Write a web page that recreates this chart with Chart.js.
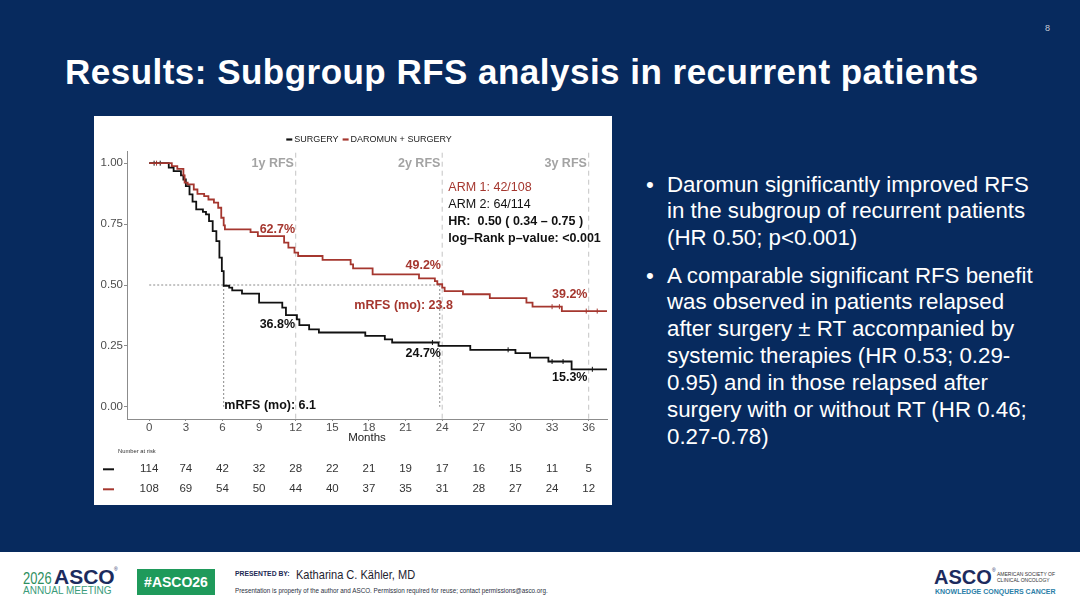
<!DOCTYPE html>
<html>
<head>
<meta charset="utf-8">
<script src="https://cdn.jsdelivr.net/npm/chart.js@4.4.0/dist/chart.umd.min.js"></script>
<style>
html, body { margin: 0; padding: 0; }
body { width: 1080px; height: 608px; position: relative; overflow: hidden; background: #072a5e; font-family: "Liberation Sans", Arial, sans-serif; }
.abs { position: absolute; white-space: nowrap; line-height: 1; }
#title { left: 65px; top: 54px; font-size: 35px; font-weight: bold; color: #fff; letter-spacing: 0.48px; }
#pg { left: 1045px; top: 24px; font-size: 9px; color: #c9cdd8; }
#box { left: 94px; top: 116px; width: 518px; height: 389px; background: #fff; }
.bul { position: absolute; left: 646px; padding-left: 21px; color: #fff; font-size: 22.3px; line-height: 26.9px; white-space: nowrap; }
.bul:before { content: "\2022"; position: absolute; left: 0; }
#footer { left: 0; top: 552px; width: 1080px; height: 56px; background: #fff; }
</style>
</head>
<body>
<div id="title" class="abs">Results: Subgroup RFS analysis in recurrent patients</div>
<div id="pg" class="abs">8</div>

<div id="box" class="abs"><canvas id="km" width="518" height="389"></canvas></div>

<div class="bul" style="top:171.5px">Daromun significantly improved RFS<br>in the subgroup of recurrent patients<br>(HR 0.50; p&lt;0.001)</div>
<div class="bul" style="top:262.5px">A comparable significant RFS benefit<br>was observed in patients relapsed<br>after surgery ± RT accompanied by<br>systemic therapies (HR 0.53; 0.29-<br>0.95) and in those relapsed after<br>surgery with or without RT (HR 0.46;<br>0.27-0.78)</div>

<div id="footer" class="abs"></div>
<div class="abs" style="left:23px;top:570px;font-size:17px;color:#2f8f5f;transform:scaleX(0.76);transform-origin:0 0">2026</div>
<div class="abs" style="left:54px;top:566px;font-size:21px;font-weight:bold;color:#1c2b5e">ASCO</div>
<div class="abs" style="left:114px;top:567px;font-size:5px;color:#1c2b5e">®</div>
<div class="abs" style="left:23px;top:586px;font-size:10px;color:#3b9c7a">ANNUAL MEETING</div>
<div class="abs" style="left:137px;top:569px;width:78px;height:26px;background:#1f9a5b;color:#fff;font-weight:bold;font-size:14px;line-height:26px;text-align:center">#ASCO26</div>
<div class="abs" style="left:235px;top:571px;font-size:6.8px;font-weight:bold;color:#1c2a55">PRESENTED BY:</div>
<div class="abs" style="left:296px;top:567.5px;font-size:13px;color:#1f2430;transform:scaleX(0.85);transform-origin:0 0">Katharina C. Kähler, MD</div>
<div class="abs" style="left:235px;top:588px;font-size:6.3px;color:#2a3040">Presentation is property of the author and ASCO. Permission required for reuse; contact permissions@asco.org.</div>
<div class="abs" style="left:934px;top:567px;font-size:20px;font-weight:bold;color:#1c2b5e">ASCO</div>
<div class="abs" style="left:992px;top:568px;font-size:5px;color:#1c2b5e">®</div>
<div class="abs" style="left:997px;top:571px;font-size:5px;color:#333;line-height:6px">AMERICAN SOCIETY OF<br>CLINICAL ONCOLOGY</div>
<div class="abs" style="left:935px;top:588px;font-size:7px;font-weight:bold;color:#2b80a8">KNOWLEDGE CONQUERS CANCER</div>

<script>
// Months shown on the x axis and numbers at risk below each of them
const months = [0, 3, 6, 9, 12, 15, 18, 21, 24, 27, 30, 33, 36];
const atRiskSurgery = [114, 74, 42, 32, 28, 22, 21, 19, 17, 16, 15, 11, 5];
const atRiskDaromun = [108, 69, 54, 50, 44, 40, 37, 35, 31, 28, 27, 24, 12];
const yTicks = [0, 0.25, 0.5, 0.75, 1];

// Kaplan-Meier steps (month, survival)
const surgeryTime = [0, 1.6, 2.0, 2.6, 2.8, 3.0, 3.3, 3.55, 3.85, 4.4, 4.65, 4.9, 5.2, 5.5, 5.75, 5.95, 6.1, 6.55, 6.8, 7.6, 9.0, 10.9, 11.2, 12.1, 12.3, 13.1, 13.9, 17.7, 19.3, 19.9, 23.7, 26.3, 30.0, 31.2, 32.7, 34.6, 37.5];
const surgerySurv = [1, 0.982, 0.967, 0.95, 0.933, 0.906, 0.872, 0.842, 0.81, 0.80, 0.79, 0.762, 0.721, 0.68, 0.612, 0.557, 0.497, 0.489, 0.478, 0.465, 0.428, 0.407, 0.376, 0.359, 0.335, 0.318, 0.305, 0.291, 0.277, 0.264, 0.25, 0.234, 0.22, 0.202, 0.186, 0.154, 0.154];
const daromunTime = [0, 1.85, 2.3, 2.8, 2.9, 3.15, 3.65, 3.95, 4.5, 4.85, 5.3, 5.65, 5.9, 6.1, 6.2, 8.3, 8.9, 11.05, 11.4, 11.9, 12.2, 14.2, 16.5, 16.7, 18.3, 22.1, 23.4, 23.6, 24.0, 24.2, 25.7, 27.9, 30.9, 31.4, 33.8, 37.5];
const daromunSurv = [1, 0.988, 0.977, 0.95, 0.92, 0.913, 0.892, 0.874, 0.865, 0.851, 0.838, 0.817, 0.776, 0.745, 0.728, 0.717, 0.701, 0.674, 0.653, 0.633, 0.619, 0.603, 0.585, 0.568, 0.544, 0.527, 0.516, 0.503, 0.489, 0.475, 0.462, 0.446, 0.428, 0.411, 0.393, 0.393];

// censoring ticks (month, survival)
const surgeryCensorTime = [0.4, 0.9, 23.2, 29.4, 33.0, 33.9, 36.3];
const surgeryCensorSurv = [1, 1, 0.264, 0.234, 0.186, 0.186, 0.154];
const daromunCensorTime = [0.6, 33.0, 33.6, 35.8, 36.7];
const daromunCensorSurv = [1, 0.411, 0.411, 0.393, 0.393];

const yearMarks = [12, 24, 36];
const yearLabels = ['1y RFS', '2y RFS', '3y RFS'];
const medianSurgery = 6.1;
const medianDaromun = 23.8;

const RED = '#a5372f';
const BLACK = '#111111';
const GREY = '#4d4d4d';

// text annotations: [text, month, survival, align, bold, colour]
const notes = [
  ['62.7%', 11.95, 0.728, 'right', true, RED],
  ['49.2%', 23.9, 0.58, 'right', true, RED],
  ['39.2%', 35.9, 0.462, 'right', true, RED],
  ['36.8%', 11.95, 0.339, 'right', true, BLACK],
  ['24.7%', 23.9, 0.219, 'right', true, BLACK],
  ['15.3%', 35.9, 0.12, 'right', true, BLACK],
  ['mRFS (mo): 23.8', 16.8, 0.414, 'left', true, RED],
  ['mRFS (mo): 6.1', 6.15, 0.007, 'left', true, BLACK],
  ['ARM 1: 42/108', 24.5, 0.899, 'left', false, RED],
  ['ARM 2: 64/114', 24.5, 0.83, 'left', false, BLACK],
  ['HR:  0.50 ( 0.34 \u2013 0.75 )', 24.5, 0.76, 'left', true, BLACK],
  ['log\u2013Rank p\u2013value: <0.001', 24.5, 0.691, 'left', true, BLACK]
];

Chart.defaults.font.family = '"Liberation Sans", Arial, sans-serif';

const kmExtras = {
  id: 'kmExtras',
  beforeDatasetsDraw(chart) {
    const { ctx, scales: { x, y } } = chart;
    ctx.save();
    ctx.lineWidth = 1;
    ctx.strokeStyle = '#c4c4c4';
    ctx.setLineDash([5, 4]);
    yearMarks.forEach(m => {
      const px = x.getPixelForValue(m);
      ctx.beginPath();
      ctx.moveTo(px, y.getPixelForValue(1.043));
      ctx.lineTo(px, y.getPixelForValue(-0.05));
      ctx.stroke();
    });
    ctx.strokeStyle = '#8a8a8a';
    ctx.setLineDash([2, 2]);
    ctx.beginPath();
    ctx.moveTo(x.getPixelForValue(0), y.getPixelForValue(0.5));
    ctx.lineTo(x.getPixelForValue(medianDaromun), y.getPixelForValue(0.5));
    [medianSurgery, medianDaromun].forEach(m => {
      ctx.moveTo(x.getPixelForValue(m), y.getPixelForValue(0.5));
      ctx.lineTo(x.getPixelForValue(m), y.getPixelForValue(0));
    });
    ctx.stroke();
    ctx.restore();
  },
  afterDraw(chart) {
    const { ctx, scales: { x, y }, chartArea } = chart;
    const fam = '"Liberation Sans", Arial, sans-serif';
    ctx.save();
    ctx.textBaseline = 'middle';

    // year labels
    ctx.font = 'bold 12.5px ' + fam;
    ctx.fillStyle = '#a3a3a3';
    ctx.textAlign = 'right';
    yearMarks.forEach((m, i) => ctx.fillText(yearLabels[i], x.getPixelForValue(m - 0.15), y.getPixelForValue(0.998)));

    notes.forEach(([t, mx, sy, al, b, c]) => {
      ctx.font = (b ? 'bold ' : '') + '12.5px ' + fam;
      ctx.fillStyle = c;
      ctx.textAlign = al;
      ctx.fillText(t, x.getPixelForValue(mx), y.getPixelForValue(sy));
    });

    // legend
    ctx.font = '9px ' + fam;
    const items = [['SURGERY', BLACK], ['DAROMUN + SURGERY', RED]];
    const key = 6, gap = 2, sep = 4;
    let total = 0;
    items.forEach(([t]) => total += key + gap + ctx.measureText(t).width + sep);
    total -= sep;
    let lx = (chartArea.left + chartArea.right) / 2 - total / 2 + 2;
    const ly = 23.5;
    ctx.textAlign = 'left';
    items.forEach(([t, c]) => {
      ctx.strokeStyle = c; ctx.lineWidth = 2.2;
      ctx.beginPath(); ctx.moveTo(lx, ly); ctx.lineTo(lx + key, ly); ctx.stroke();
      ctx.fillStyle = '#222';
      ctx.fillText(t, lx + key + gap, ly);
      lx += key + gap + ctx.measureText(t).width + sep;
    });

    // number at risk table
    ctx.font = '5.8px ' + fam;
    ctx.fillStyle = '#333';
    ctx.fillText('Number at risk', 24, 335);
    const rows = [[atRiskSurgery, BLACK, 353.3], [atRiskDaromun, RED, 373.3]];
    ctx.font = '11.5px ' + fam;
    ctx.textAlign = 'center';
    rows.forEach(([vals, c, ry]) => {
      ctx.strokeStyle = c; ctx.lineWidth = 2;
      ctx.beginPath(); ctx.moveTo(9, ry); ctx.lineTo(20, ry); ctx.stroke();
      ctx.fillStyle = '#333';
      vals.forEach((v, i) => ctx.fillText(String(v), x.getPixelForValue(months[i]), ry));
    });
    ctx.restore();
  }
};

const toPoints = (ts, ss) => ts.map((t, i) => ({ x: t, y: ss[i] }));
const censorSet = (ts, ss, c) => ({
  type: 'scatter', data: toPoints(ts, ss), pointStyle: 'line', rotation: 90,
  pointRadius: 2.5, borderColor: c, borderWidth: 1, showLine: false
});

new Chart(document.getElementById('km').getContext('2d'), {
  type: 'line',
  data: {
    datasets: [
      { label: 'DAROMUN + SURGERY', data: toPoints(daromunTime, daromunSurv), borderColor: RED, borderWidth: 1.8, stepped: true, pointRadius: 0, fill: false },
      { label: 'SURGERY', data: toPoints(surgeryTime, surgerySurv), borderColor: BLACK, borderWidth: 1.8, stepped: true, pointRadius: 0, fill: false },
      censorSet(daromunCensorTime, daromunCensorSurv, RED),
      censorSet(surgeryCensorTime, surgeryCensorSurv, BLACK)
    ]
  },
  options: {
    responsive: false,
    animation: false,
    layout: { padding: { top: 35, bottom: 55, left: 0, right: 2 } },
    plugins: { legend: { display: false }, tooltip: { enabled: false } },
    scales: {
      x: {
        type: 'linear', min: -1.82, max: 37.5,
        afterBuildTicks: s => { s.ticks = months.map(v => ({ value: v })); },
        afterFit: s => { s.height = 31; },
        ticks: { color: GREY, font: { size: 11.5 }, padding: 0, maxRotation: 0, callback: v => String(v) },
        grid: { drawOnChartArea: false, tickLength: 2, color: '#8c8c8c' },
        border: { color: '#8c8c8c' },
        title: { display: true, text: 'Months', color: '#222', font: { size: 11.5 }, padding: { top: 0, bottom: 5 } }
      },
      y: {
        min: -0.05, max: 1.05,
        afterBuildTicks: s => { s.ticks = yTicks.map(v => ({ value: v })); },
        afterFit: s => { s.width = 33; },
        ticks: { color: GREY, font: { size: 11.5 }, padding: 1, callback: v => v.toFixed(2) },
        grid: { drawOnChartArea: false, tickLength: 3, color: '#8c8c8c' },
        border: { color: '#8c8c8c' }
      }
    }
  },
  plugins: [kmExtras]
});
</script>
</body>
</html>
